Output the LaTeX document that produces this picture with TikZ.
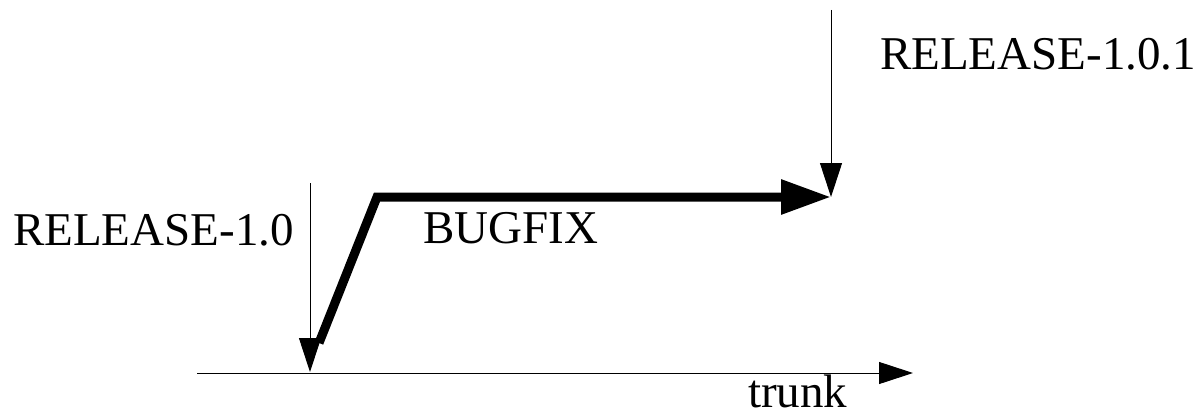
\documentclass[tikz,border=0pt]{standalone}
\usepackage{fontspec}
\setmainfont{Liberation Serif}
\usetikzlibrary{arrows.meta}
\begin{document}
\begin{tikzpicture}[x=1pt,y=-1pt,
  label/.style={anchor=base west,inner sep=0pt,font=\fontsize{47}{50}\selectfont},
  thin/.style={line width=1pt,-{Triangle[length=34pt,width=22pt]}},
  thick/.style={line width=9pt,-{Triangle[length=50pt,width=33pt]}}]
\useasboundingbox (0,0) rectangle (1204,412);
% key points
\coordinate (trunkA) at (197,373);
\coordinate (trunkB) at (913,373);
\coordinate (relA) at (310,183);
\coordinate (relB) at (310,372);
\coordinate (rel1A) at (831,10);
\coordinate (rel1B) at (831,197);
\coordinate (bfA) at (319,343);
\coordinate (bfK) at (377,197);
\coordinate (bfB) at (831,197);
% branch line
\draw[thick] (bfA) -- (bfK) -- (bfB);
% trunk and tag markers
\draw[thin] (trunkA) -- (trunkB);
\draw[thin] (relA) -- (relB);
\draw[thin] (rel1A) -- (rel1B);
% labels
\node[label] (lrel) at (13,245) {RELEASE-1.0};
\node[label] (lrel1) at (880,70) {RELEASE-1.0.1};
\node[label] (lbug) at (423,243) {BUGFIX};
\node[label] (ltrunk) at (748,407) {trunk};
\end{tikzpicture}
\end{document}
